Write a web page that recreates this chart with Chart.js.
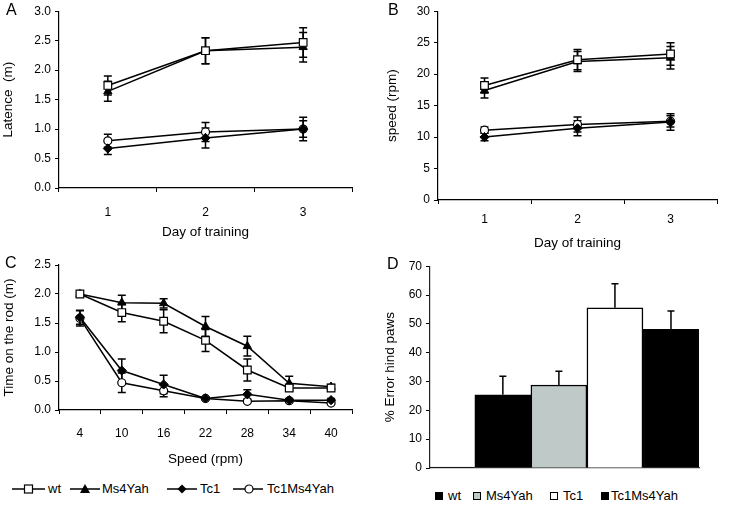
<!DOCTYPE html>
<html>
<head>
<meta charset="utf-8">
<script src="https://cdn.jsdelivr.net/npm/chart.js@4"></script>
<style>
  body { margin: 0; background: #fff; font-family: "Liberation Sans", Arial, sans-serif; color: #000; }
  #wrap { position: relative; width: 740px; height: 505px; overflow: hidden; }
  .pane { position: absolute; }
  .tag { position: absolute; font-size: 16px; line-height: 16px; }
  .leg { position: absolute; font-size: 13px; line-height: 14px; white-space: nowrap; }
  .leg svg { position: absolute; top: 0; }
  .sq { position: absolute; width: 8px; height: 8px; box-sizing: border-box; border: 1.2px solid #000; top: 492px; }
</style>
</head>
<body>
<div id="wrap">
  <canvas id="chA" class="pane" style="left:0;top:0"></canvas>
  <canvas id="chB" class="pane" style="left:370px;top:0"></canvas>
  <canvas id="chC" class="pane" style="left:0;top:250px"></canvas>
  <canvas id="chD" class="pane" style="left:370px;top:255px"></canvas>

  <div class="tag" style="left:6px;top:2px">A</div>
  <div class="tag" style="left:388px;top:2px">B</div>
  <div class="tag" style="left:5px;top:255px">C</div>
  <div class="tag" style="left:387px;top:256px">D</div>

  <!-- legend C -->
  <div class="leg" style="left:12px;top:482px;width:60px">
    <svg width="34" height="14"><line x1="0" y1="7" x2="33" y2="7" stroke="#000" stroke-width="1.5"/><rect x="12.5" y="3" width="8" height="8" fill="#fff" stroke="#000" stroke-width="1.2"/></svg>
    <span style="position:absolute;left:36px">wt</span>
  </div>
  <div class="leg" style="left:70px;top:482px;width:90px">
    <svg width="32" height="14"><line x1="0" y1="7" x2="30" y2="7" stroke="#000" stroke-width="1.5"/><polygon points="15,2 20,11 10,11" fill="#000"/></svg>
    <span style="position:absolute;left:32px">Ms4Yah</span>
  </div>
  <div class="leg" style="left:167px;top:482px;width:60px">
    <svg width="32" height="14"><line x1="0" y1="7" x2="30" y2="7" stroke="#000" stroke-width="1.5"/><polygon points="15,2.5 19.5,7 15,11.5 10.5,7" fill="#000"/></svg>
    <span style="position:absolute;left:33px">Tc1</span>
  </div>
  <div class="leg" style="left:233px;top:482px;width:110px">
    <svg width="32" height="14"><line x1="0" y1="7" x2="30" y2="7" stroke="#000" stroke-width="1.5"/><circle cx="16" cy="7" r="4" fill="#fff" stroke="#000" stroke-width="1.2"/></svg>
    <span style="position:absolute;left:34px">Tc1Ms4Yah</span>
  </div>

  <!-- legend D -->
  <div class="sq" style="left:435px;background:#000"></div>
  <div class="leg" style="left:448px;top:489px">wt</div>
  <div class="sq" style="left:473px;background:#bfc9c7"></div>
  <div class="leg" style="left:486px;top:489px">Ms4Yah</div>
  <div class="sq" style="left:550px;background:#fff"></div>
  <div class="leg" style="left:563px;top:489px">Tc1</div>
  <div class="sq" style="left:601px;background:#000"></div>
  <div class="leg" style="left:611px;top:489px">Tc1Ms4Yah</div>
</div>

<script>
'use strict';

// ---------- data ----------
const days = ['1', '2', '3'];
const speeds = ['4', '10', '16', '22', '28', '34', '40'];

// A: latence (m)
const latWt = [1.74, 2.33, 2.47];
const latWtErr = [0.16, 0.22, 0.25];
const latMs = [1.64, 2.33, 2.39];
const latMsErr = [0.17, 0.22, 0.25];
const latTc1 = [0.67, 0.85, 1.00];
const latTc1Err = [0.10, 0.17, 0.20];
const latTcMs = [0.80, 0.95, 1.00];
const latTcMsErr = [0.11, 0.16, 0.14];

// B: speed (rpm)
const spdWt = [18.2, 22.3, 23.2];
const spdWtErr = [1.2, 1.6, 1.8];
const spdMs = [17.4, 22.0, 22.6];
const spdMsErr = [1.2, 1.6, 1.8];
const spdTc1 = [10.0, 11.4, 12.4];
const spdTc1Err = [0.6, 1.2, 1.3];
const spdTcMs = [11.1, 12.0, 12.5];
const spdTcMsErr = [0.5, 1.2, 0.9];

// C: time on the rod (m)
const rodWt = [2.00, 1.68, 1.53, 1.20, 0.69, 0.38, 0.38];
const rodWtErr = [0.02, 0.16, 0.20, 0.19, 0.19, 0.05, 0.05];
const rodMs = [2.00, 1.85, 1.84, 1.44, 1.10, 0.46, 0.40];
const rodMsErr = [0.02, 0.13, 0.08, 0.17, 0.17, 0.12, 0.04];
const rodTc1 = [1.60, 0.68, 0.44, 0.20, 0.27, 0.17, 0.17];
const rodTc1Err = [0.12, 0.20, 0.16, 0.02, 0.08, 0.03, 0.03];
const rodTcMs = [1.58, 0.47, 0.33, 0.20, 0.15, 0.16, 0.12];
const rodTcMsErr = [0.13, 0.17, 0.10, 0.02, 0.02, 0.03, 0.02];

// D: % error hind paws (bar slots 1..5, the first one is cut by the axis)
const barSlots = [1, 2, 3, 4, 5];
const errPct = [0.3, 25.4, 28.8, 55.6, 48.1];
const errPctErr = [0, 6.4, 4.8, 8.3, 6.4];
const barColors = ['#000000', '#000000', '#bfc9c7', '#ffffff', '#000000'];

// ---------- style ----------
const FONT = '"Liberation Sans", Arial, sans-serif';
Chart.defaults.font.family = FONT;
Chart.defaults.color = '#000';
Chart.defaults.animation = false;

const MARK = {
  wt: { pointStyle: 'rect', pointRadius: 5.4, pointBackgroundColor: '#fff', pointBorderWidth: 1.2 },
  Ms4Yah: { pointStyle: 'triangle', pointRadius: 4.8, pointBackgroundColor: '#000', pointBorderWidth: 1 },
  Tc1: { pointStyle: 'rectRot', pointRadius: 4.6, pointBackgroundColor: '#000', pointBorderWidth: 1 },
  Tc1Ms4Yah: { pointStyle: 'circle', pointRadius: 4, pointBackgroundColor: '#fff', pointBorderWidth: 1.2 },
};

function lineSet(name, data, errors) {
  return Object.assign({
    label: name, data, errors,
    borderColor: '#000', borderWidth: 1.5, pointBorderColor: '#000',
    pointHoverRadius: 5, tension: 0,
  }, MARK[name]);
}

// error bars drawn before the marks so hollow markers cover them
const errorBars = {
  id: 'errorBars',
  beforeDatasetsDraw(chart) {
    const ctx = chart.ctx;
    const y = chart.scales.y;
    ctx.save();
    ctx.strokeStyle = '#000';
    ctx.lineWidth = 1.5;
    chart.data.datasets.forEach((ds, di) => {
      if (!ds.errors) return;
      const meta = chart.getDatasetMeta(di);
      meta.data.forEach((el, i) => {
        const raw = ds.data[i];
        const v = typeof raw === 'object' ? raw.y : raw;
        const e = ds.errors[i];
        if (!e) return;
        const top = y.getPixelForValue(v + e);
        const bot = ds.upOnly ? y.getPixelForValue(v) : y.getPixelForValue(v - e);
        const cap = ds.cap || 4;
        ctx.beginPath();
        ctx.moveTo(el.x, top); ctx.lineTo(el.x, bot);
        ctx.moveTo(el.x - cap, top); ctx.lineTo(el.x + cap, top);
        if (!ds.upOnly) { ctx.moveTo(el.x - cap, bot); ctx.lineTo(el.x + cap, bot); }
        ctx.stroke();
      });
    });
    ctx.restore();
  },
};

const TITLE_FONT = { size: 13.5 };

function lineChart(id, w, h, labels, sets, p) {
  const cv = document.getElementById(id);
  cv.style.width = w + 'px';
  cv.style.height = h + 'px';
  return new Chart(cv, {
    type: 'line',
    data: { labels, datasets: sets },
    plugins: [errorBars],
    options: {
      responsive: false,
      devicePixelRatio: 1,
      layout: { padding: { left: 0, right: p.right, top: p.top, bottom: 0 } },
      plugins: { legend: { display: false }, tooltip: { enabled: false } },
      scales: {
        x: {
          offset: true,
          grid: { offset: true, drawOnChartArea: false, tickLength: 4, color: '#000' },
          border: { color: '#000', width: 1.2 },
          ticks: { font: { size: 12 }, padding: p.xPad, color: '#000' },
          title: { display: true, text: p.xTitle, font: TITLE_FONT, padding: { top: 0, bottom: p.xTitlePad } },
          afterFit(s) { s.height = p.xH; },
        },
        y: {
          min: p.min, max: p.max,
          grid: { drawOnChartArea: false, tickLength: 4, color: '#000' },
          border: { color: '#000', width: 1.2 },
          ticks: { stepSize: p.step, font: { size: 12 }, padding: 4, color: '#000',
            callback: (v) => p.dec ? v.toFixed(1) : String(v) },
          title: { display: true, text: p.yTitle, font: TITLE_FONT, padding: { top: p.yTitlePad, bottom: 0 } },
          afterFit(s) { s.width = p.yW; },
        },
      },
    },
  });
}

lineChart('chA', 370, 250, days, [
  lineSet('wt', latWt, latWtErr),
  lineSet('Ms4Yah', latMs, latMsErr),
  lineSet('Tc1', latTc1, latTc1Err),
  lineSet('Tc1Ms4Yah', latTcMs, latTcMsErr),
], { right: 18, top: 9, xH: 62, xPad: 13, xTitle: 'Day of training', xTitlePad: 10,
  yW: 59, yTitle: 'Latence  (m)', yTitlePad: 0, min: 0, max: 3, step: 0.5, dec: true });

lineChart('chB', 370, 252, days, [
  lineSet('wt', spdWt, spdWtErr),
  lineSet('Ms4Yah', spdMs, spdMsErr),
  lineSet('Tc1', spdTc1, spdTc1Err),
  lineSet('Tc1Ms4Yah', spdTcMs, spdTcMsErr),
], { right: 23, top: 9, xH: 52, xPad: 8, xTitle: 'Day of training', xTitlePad: 1,
  yW: 68, yTitle: 'speed (rpm)', yTitlePad: 14, min: 0, max: 30, step: 5, dec: false });

lineChart('chC', 370, 225, speeds, [
  lineSet('wt', rodWt, rodWtErr),
  lineSet('Ms4Yah', rodMs, rodMsErr),
  lineSet('Tc1', rodTc1, rodTc1Err),
  lineSet('Tc1Ms4Yah', rodTcMs, rodTcMsErr),
], { right: 18, top: 15, xH: 65, xPad: 12, xTitle: 'Speed (rpm)', xTitlePad: 8,
  yW: 59, yTitle: 'Time on the rod (m)', yTitlePad: 1, min: 0, max: 2.5, step: 0.5, dec: true });

// ---------- D: bars ----------
const cvD = document.getElementById('chD');
cvD.style.width = '370px';
cvD.style.height = '232px';
new Chart(cvD, {
  type: 'bar',
  data: {
    datasets: [{
      data: barSlots.map((x, i) => ({ x, y: errPct[i] })),
      errors: errPctErr, upOnly: true, cap: 3.5,
      backgroundColor: barColors, borderColor: '#000', borderWidth: 1.5,
      barPercentage: 1, categoryPercentage: 1, clip: 0,
    }],
  },
  plugins: [errorBars],
  options: {
    responsive: false,
    devicePixelRatio: 1,
    layout: { padding: { left: 0, right: 41, top: 10, bottom: 0 } },
    plugins: { legend: { display: false }, tooltip: { enabled: false } },
    scales: {
      x: {
        type: 'linear', min: 0.7, max: 5.5, offset: false,
        grid: { display: false },
        border: { color: '#444', width: 1.2 },
        ticks: { display: false },
        // one tick per bar slot so the bar width spans a full slot
        afterBuildTicks(s) { s.ticks = barSlots.map((v) => ({ value: v })); },
        afterFit(s) { s.height = 19; },
      },
      y: {
        min: 0, max: 70,
        grid: { drawOnChartArea: false, tickLength: 4, color: '#000' },
        border: { color: '#222', width: 1.2 },
        ticks: { stepSize: 10, font: { size: 12 }, padding: 4, color: '#000' },
        title: { display: true, text: '% Error hind paws', font: TITLE_FONT, padding: { top: 12, bottom: 0 } },
        afterFit(s) { s.width = 60; },
      },
    },
  },
});
</script>
</body>
</html>
